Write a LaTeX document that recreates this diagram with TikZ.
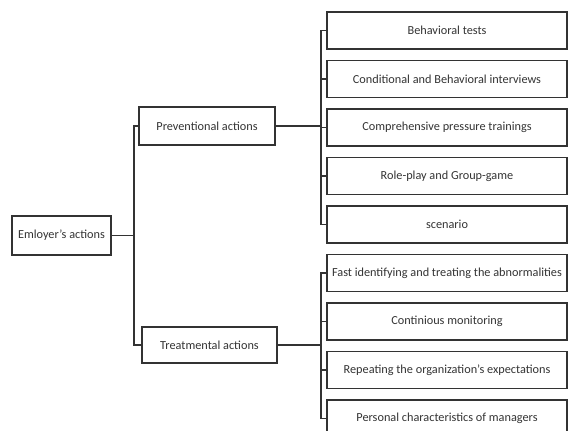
\documentclass[tikz,border=0pt]{standalone}
\usepackage{fontspec}
\setmainfont{Carlito}
\usepackage{tikz}

\tikzset{
    actbox/.style={draw=black!80, line width=0.8pt, text=black!80, font=\fontsize{9.2}{11}\selectfont, inner sep=1pt},
    subbox/.style={actbox, minimum width=180pt, minimum height=27.75pt},
    link/.style={draw=black!80, line width=0.8pt}
}

\begin{document}
\begin{tikzpicture}[x=0.75pt,y=-0.75pt]

    \clip (0,0) rectangle (568,430);

    % main boxes
    \node[actbox, minimum width=74.25pt, minimum height=29.25pt] (emp) at (61.5,235.5) {Emloyer's actions};
    \node[actbox, minimum width=102pt, minimum height=28.5pt] (prev) at (207,126) {Preventional actions};
    \node[actbox, minimum width=101.25pt, minimum height=27pt] (treat) at (209.5,345) {Treatmental actions};

    \coordinate (busa) at (134,0);
    \coordinate (busb) at (321,0);

    % preventional actions
    \node[subbox] (p1) at (447,30.5) {Behavioral tests};
    \node[subbox] (p2) at (447,79) {Conditional and Behavioral interviews};
    \node[subbox] (p3) at (447,127.5) {Comprehensive pressure trainings};
    \node[subbox] (p4) at (447,176) {Role-play and Group-game};
    \node[subbox] (p5) at (447,224.5) {scenario};

    % treatmental actions
    \node[subbox] (t1) at (447,273) {Fast identifying and treating the abnormalities};
    \node[subbox] (t2) at (447,321.5) {Continious monitoring};
    \node[subbox] (t3) at (447,370) {Repeating the organization's expectations};
    \node[subbox] (t4) at (447,418.5) {Personal characteristics of managers};

    \draw[link] (emp.east) -- (emp.east -| busa);
    \draw[link] (prev.west) -- (prev.west -| busa) -- (treat.west -| busa) -- (treat.west);

    \draw[link] (prev.east) -- (prev.east -| busb);
    \draw[link] (p1.west) -- (p1.west -| busb) -- (p5.west -| busb) -- (p5.west);
    \draw[link] (p2.west -| busb) -- (p2.west);
    \draw[link] (p3.west -| busb) -- (p3.west);
    \draw[link] (p4.west -| busb) -- (p4.west);

    \draw[link] (treat.east) -- (treat.east -| busb);
    \draw[link] (t1.west) -- (t1.west -| busb) -- (t4.west -| busb) -- (t4.west);
    \draw[link] (t2.west -| busb) -- (t2.west);
    \draw[link] (t3.west -| busb) -- (t3.west);

\end{tikzpicture}
\end{document}
